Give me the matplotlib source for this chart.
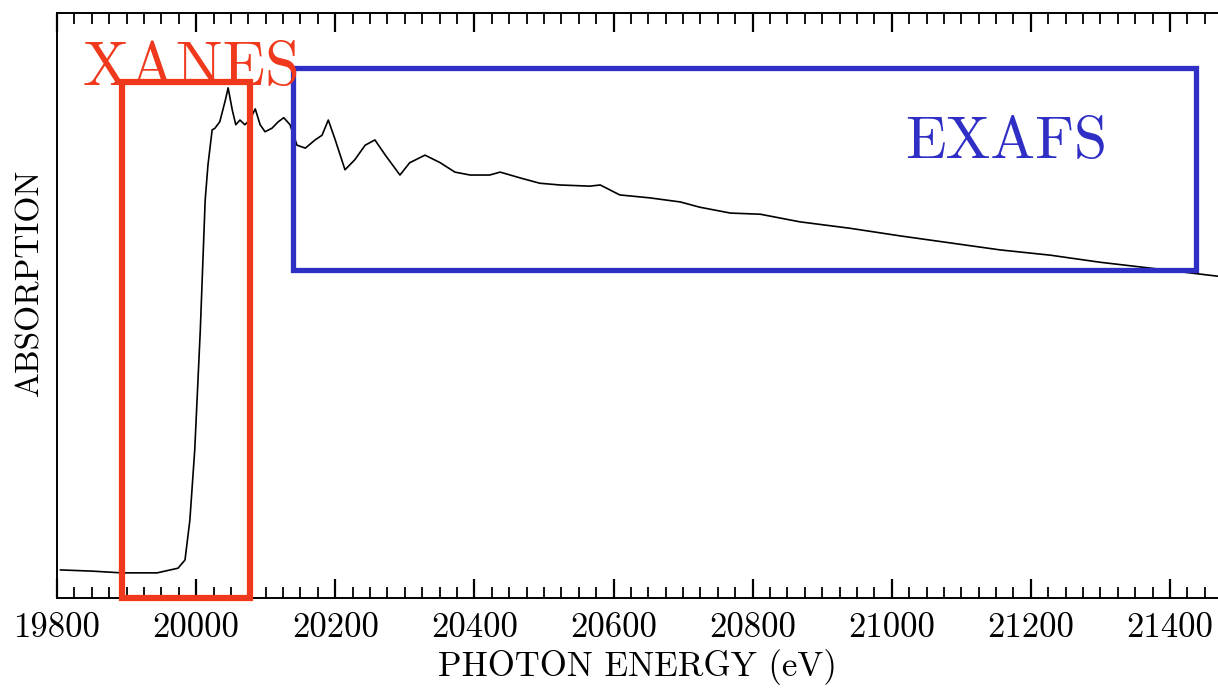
import matplotlib
matplotlib.use("Agg")
import matplotlib.pyplot as plt
from matplotlib.patches import Rectangle
from matplotlib.ticker import MultipleLocator

# absorption spectrum (eV, normalised absorption)
energy = [19805, 19850, 19893, 19944, 19974, 19984, 19991, 19998, 20006, 20013,
          20017, 20023, 20027, 20034, 20042, 20046, 20052, 20057, 20063, 20070,
          20077, 20085, 20092, 20099, 20109, 20118, 20126, 20135, 20145, 20157,
          20171, 20181, 20190, 20200, 20214, 20228, 20243, 20257, 20272, 20293,
          20307, 20329, 20351, 20372, 20394, 20422, 20437, 20466, 20494, 20523,
          20566, 20581, 20609, 20652, 20696, 20724, 20768, 20811, 20868, 20940,
          21012, 21084, 21156, 21228, 21299, 21371, 21469]
absorption = [0.048, 0.046, 0.043, 0.043, 0.051, 0.065, 0.133, 0.253, 0.458, 0.680,
              0.740, 0.800, 0.803, 0.814, 0.851, 0.872, 0.834, 0.809, 0.817, 0.809,
              0.817, 0.836, 0.809, 0.797, 0.803, 0.814, 0.821, 0.809, 0.774, 0.769,
              0.783, 0.791, 0.817, 0.783, 0.732, 0.749, 0.774, 0.783, 0.757, 0.723,
              0.744, 0.757, 0.744, 0.728, 0.723, 0.723, 0.728, 0.718, 0.709, 0.706,
              0.704, 0.706, 0.689, 0.684, 0.677, 0.668, 0.658, 0.656, 0.643, 0.632,
              0.619, 0.607, 0.595, 0.586, 0.574, 0.564, 0.550]

# region boxes: (e_min, e_max, y_min, y_max)
xanes_box = (19893, 20077, 0.0, 0.882)
exafs_box = (20139, 21437, 0.561, 0.906)

x_ticks = [19800, 20000, 20200, 20400, 20600, 20800, 21000, 21200, 21400]

font = "cmr10"
red = "#f0391c"
blue = "#2f2fc6"

fig = plt.figure(figsize=(12.18, 6.94), dpi=100)
ax = fig.add_axes([0.0468, 0.1383, 0.9532, 0.843])

ax.plot(energy, absorption, color="black", lw=1.2)
ax.set_xlim(19800, 21469)
ax.set_ylim(0, 1)
ax.set_yticks([])
ax.set_xticks(x_ticks)
ax.set_xticklabels([str(t) for t in x_ticks], family=font, fontsize=25)
ax.xaxis.set_minor_locator(MultipleLocator(25))
ax.tick_params(axis="x", which="both", direction="in", top=True, bottom=True,
               color="black")
ax.tick_params(axis="x", which="major", length=14, width=1.6, pad=10)
ax.tick_params(axis="x", which="minor", length=8, width=1.3)

ax.add_patch(Rectangle((xanes_box[0], xanes_box[2]), xanes_box[1] - xanes_box[0],
                       xanes_box[3] - xanes_box[2], fill=False, edgecolor=red,
                       lw=4.5, zorder=4, clip_on=False))
ax.add_patch(Rectangle((exafs_box[0], exafs_box[2]), exafs_box[1] - exafs_box[0],
                       exafs_box[3] - exafs_box[2], fill=False, edgecolor=blue,
                       lw=3.8, zorder=3))

ax.text(19837, 0.877, "XANES", color=red, fontsize=45, family=font,
        va="baseline", ha="left", zorder=5)
ax.text(21019, 0.752, "EXAFS", color=blue, fontsize=43, family=font,
        va="baseline", ha="left", zorder=5)

for side in ["left", "bottom", "top"]:
    ax.spines[side].set_linewidth(1.4)
ax.spines["right"].set_visible(False)

ax.set_xlabel("PHOTON ENERGY (eV)", family=font, fontsize=25, labelpad=4)
ax.set_ylabel("ABSORPTION", family=font, fontsize=24)
ax.yaxis.set_label_coords(-0.011, 0.54)

fig.savefig("out.png", dpi=100)
